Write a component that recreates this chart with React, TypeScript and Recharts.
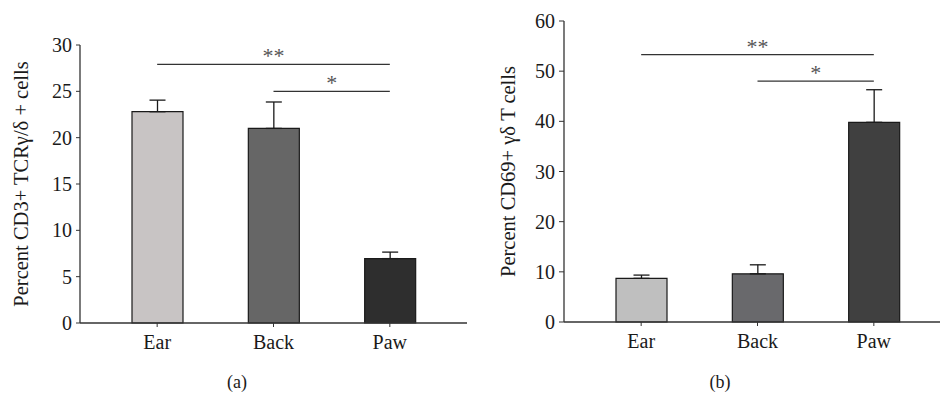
import { BarChart, Bar, XAxis, YAxis, Cell, ErrorBar, ReferenceLine, Label } from "recharts";

const categories = ["Ear", "Back", "Paw"];

// panel (a): percent CD3+ TCRγ/δ+ cells
const valuesA = [22.8, 21.0, 6.95];
const errorsA = [1.25, 2.85, 0.7];
const colorsA = ["#c8c4c4", "#666666", "#2e2e2e"];
const ticksA = [0, 5, 10, 15, 20, 25, 30];

// panel (b): percent CD69+ γδ T cells
const valuesB = [8.7, 9.6, 39.8];
const errorsB = [0.65, 1.8, 6.5];
const colorsB = ["#bfbfbf", "#69696c", "#404040"];
const ticksB = [0, 10, 20, 30, 40, 50, 60];

const FONT = "'Liberation Serif', 'DejaVu Serif', serif";
const AXIS = "#333333";

const dataA = categories.map((name, i) => ({ name, value: valuesA[i], err: [0, errorsA[i]] }));
const dataB = categories.map((name, i) => ({ name, value: valuesB[i], err: [0, errorsB[i]] }));

const tickStyle = { fill: "#1a1a1a", fontSize: 20, fontFamily: FONT };

function yLabel(text: string, cx: number) {
  return (props: any) => {
    const vb = props.viewBox || {};
    const cy = vb.y + vb.height / 2;
    return (
      <text
        x={cx}
        y={cy}
        transform={`rotate(-90 ${cx} ${cy})`}
        textAnchor="middle"
        dominantBaseline="central"
        fontFamily={FONT}
        fontSize={20.5}
        fill="#1a1a1a"
      >
        {text}
      </text>
    );
  };
}

const starLabel = (value: string) => ({
  value,
  position: "top" as const,
  offset: 1,
  fill: "#555",
  fontSize: 22,
  fontFamily: FONT,
});

export default function App() {
  return (
    <div style={{ position: "absolute", left: 0, top: 0, width: 940, height: 393, background: "#fff" }}>
      <div style={{ position: "absolute", left: 0, top: 0 }}>
        <BarChart width={480} height={393} data={dataA} margin={{ top: 45, right: 13, bottom: 0, left: 0 }}>
          <XAxis
            dataKey="name"
            height={70}
            padding={{ left: 19, right: 19 }}
            tickSize={4}
            tickMargin={8}
            tick={tickStyle}
            axisLine={{ stroke: AXIS, strokeWidth: 1.3 }}
            tickLine={{ stroke: AXIS }}
          />
          <YAxis
            width={80}
            domain={[0, 30]}
            ticks={ticksA}
            tickSize={4}
            tickMargin={4}
            tick={tickStyle}
            axisLine={{ stroke: AXIS, strokeWidth: 1.3 }}
            tickLine={{ stroke: AXIS }}
          >
            <Label content={yLabel("Percent CD3+ TCRγ/δ + cells", 21)} />
          </YAxis>
          <ReferenceLine
            segment={[{ x: "Ear", y: 27.9 }, { x: "Paw", y: 27.9 }]}
            stroke="#333"
            strokeWidth={1.2}
            label={starLabel("**")}
          />
          <ReferenceLine
            segment={[{ x: "Back", y: 25 }, { x: "Paw", y: 25 }]}
            stroke="#333"
            strokeWidth={1.2}
            label={starLabel("*")}
          />
          <Bar dataKey="value" barSize={51} stroke="#1a1a1a" strokeWidth={1.2} isAnimationActive={false}>
            {dataA.map((d, i) => (
              <Cell key={d.name} fill={colorsA[i]} />
            ))}
            <ErrorBar dataKey="err" width={8} stroke="#1a1a1a" strokeWidth={1.3} direction="y" />
          </Bar>
        </BarChart>
      </div>
      <div style={{ position: "absolute", left: 480, top: 0 }}>
        <BarChart width={460} height={393} data={dataB} margin={{ top: 21, right: 0, bottom: 0, left: 0 }}>
          <XAxis
            dataKey="name"
            height={71}
            padding={{ left: 19, right: 8 }}
            tickSize={4}
            tickMargin={8}
            tick={tickStyle}
            axisLine={{ stroke: AXIS, strokeWidth: 1.3 }}
            tickLine={{ stroke: AXIS }}
          />
          <YAxis
            width={84}
            domain={[0, 60]}
            ticks={ticksB}
            tickSize={5}
            tickMargin={4}
            tick={tickStyle}
            axisLine={{ stroke: AXIS, strokeWidth: 1.3 }}
            tickLine={{ stroke: AXIS }}
          >
            <Label content={yLabel("Percent CD69+ γδ T cells", 28)} />
          </YAxis>
          <ReferenceLine
            segment={[{ x: "Ear", y: 53.3 }, { x: "Paw", y: 53.3 }]}
            stroke="#333"
            strokeWidth={1.2}
            label={starLabel("**")}
          />
          <ReferenceLine
            segment={[{ x: "Back", y: 48 }, { x: "Paw", y: 48 }]}
            stroke="#333"
            strokeWidth={1.2}
            label={starLabel("*")}
          />
          <Bar dataKey="value" barSize={51} stroke="#1a1a1a" strokeWidth={1.2} isAnimationActive={false}>
            {dataB.map((d, i) => (
              <Cell key={d.name} fill={colorsB[i]} />
            ))}
            <ErrorBar dataKey="err" width={8} stroke="#1a1a1a" strokeWidth={1.3} direction="y" />
          </Bar>
        </BarChart>
      </div>
      <div style={{ position: "absolute", left: 217, top: 372, width: 40, textAlign: "center", fontFamily: FONT, fontSize: 18, color: "#1a1a1a" }}>
        (a)
      </div>
      <div style={{ position: "absolute", left: 700, top: 372, width: 40, textAlign: "center", fontFamily: FONT, fontSize: 18, color: "#1a1a1a" }}>
        (b)
      </div>
    </div>
  );
}
